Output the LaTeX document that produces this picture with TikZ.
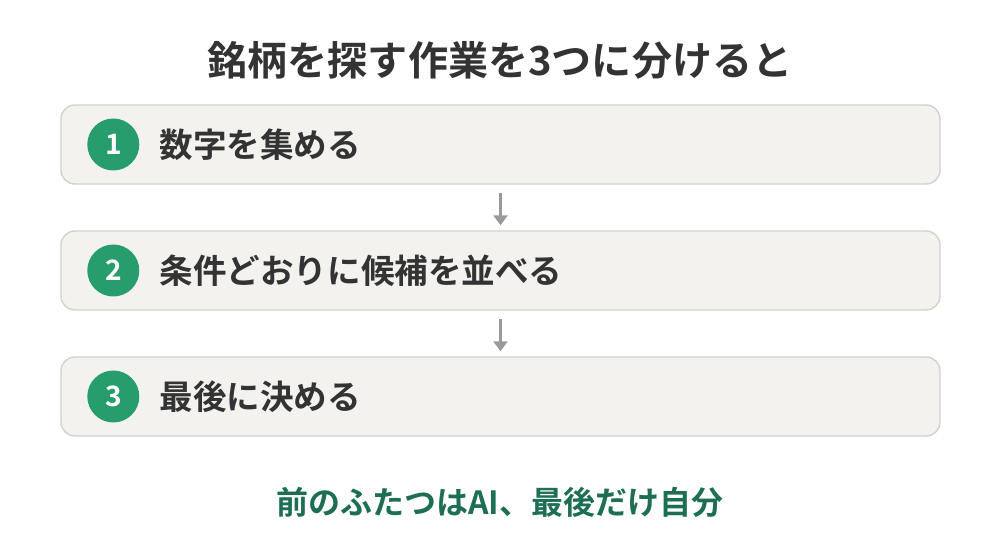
\documentclass[tikz,border=0pt]{standalone}
\usepackage{fontspec}
\setmainfont{Noto Sans CJK JP}[BoldFont={Noto Sans CJK JP Bold}]
\usetikzlibrary{arrows.meta, calc}

\definecolor{boxfill}{HTML}{F3F2EE}
\definecolor{boxline}{HTML}{D3D1CA}
\definecolor{stepgreen}{HTML}{279D6E}
\definecolor{notegreen}{HTML}{1E6E55}
\definecolor{textdark}{HTML}{333333}
\definecolor{arrowgray}{HTML}{9A9A96}

\begin{document}
\begin{tikzpicture}[inner sep=0pt,node distance=2.52cm]
        \useasboundingbox (0,0) rectangle (20,-10.92);
        \draw node [font=\bfseries\fontsize{22.8}{27}\selectfont,text=textdark]
            (T) at (10,-1.2) {銘柄を探す作業を3つに分けると};
        % step boxes
        \draw node [draw=boxline,line width=0.8pt,fill=boxfill,rounded corners=0.28cm,
            minimum width=17.58cm,minimum height=1.58cm] (S1) at (10.01,-2.89) {};
        \draw node [draw=boxline,line width=0.8pt,fill=boxfill,rounded corners=0.28cm,
            minimum width=17.58cm,minimum height=1.58cm,below of=S1] (S2) {};
        \draw node [draw=boxline,line width=0.8pt,fill=boxfill,rounded corners=0.28cm,
            minimum width=17.58cm,minimum height=1.58cm,below of=S2] (S3) {};
        % numbers
        \draw node [circle,fill=stepgreen,minimum size=1.04cm,text=white,
            font=\bfseries\fontsize{16}{19}\selectfont] (N1)
            at ($ (S1.west) + (1.06,0) $) {1};
        \draw node [circle,fill=stepgreen,minimum size=1.04cm,text=white,
            font=\bfseries\fontsize{16}{19}\selectfont] (N2)
            at ($ (S2.west) + (1.06,0) $) {2};
        \draw node [circle,fill=stepgreen,minimum size=1.04cm,text=white,
            font=\bfseries\fontsize{16}{19}\selectfont] (N3)
            at ($ (S3.west) + (1.06,0) $) {3};
        % labels
        \draw node [anchor=west,text=textdark,font=\bfseries\fontsize{19.1}{23}\selectfont]
            (L1) at ($ (S1.west) + (1.98,0) $) {数字を集める};
        \draw node [anchor=west,text=textdark,font=\bfseries\fontsize{19.1}{23}\selectfont]
            (L2) at ($ (S2.west) + (1.98,0) $) {条件どおりに候補を並べる};
        \draw node [anchor=west,text=textdark,font=\bfseries\fontsize{19.1}{23}\selectfont]
            (L3) at ($ (S3.west) + (1.98,0) $) {最後に決める};
        % arrows between steps
        \draw [arrowgray,line width=1.4pt,-{Triangle[width=0.28cm,length=0.2cm]}]
            ($ (S1.south) + (0,-0.16) $) -- ($ (S2.north) + (0,0.1) $);
        \draw [arrowgray,line width=1.4pt,-{Triangle[width=0.28cm,length=0.2cm]}]
            ($ (S2.south) + (0,-0.16) $) -- ($ (S3.north) + (0,0.1) $);
        \draw node [font=\bfseries\fontsize{18.2}{22}\selectfont,text=notegreen]
            (F) at (10,-10.04) {前のふたつはAI、最後だけ自分};
\end{tikzpicture}
\end{document}
